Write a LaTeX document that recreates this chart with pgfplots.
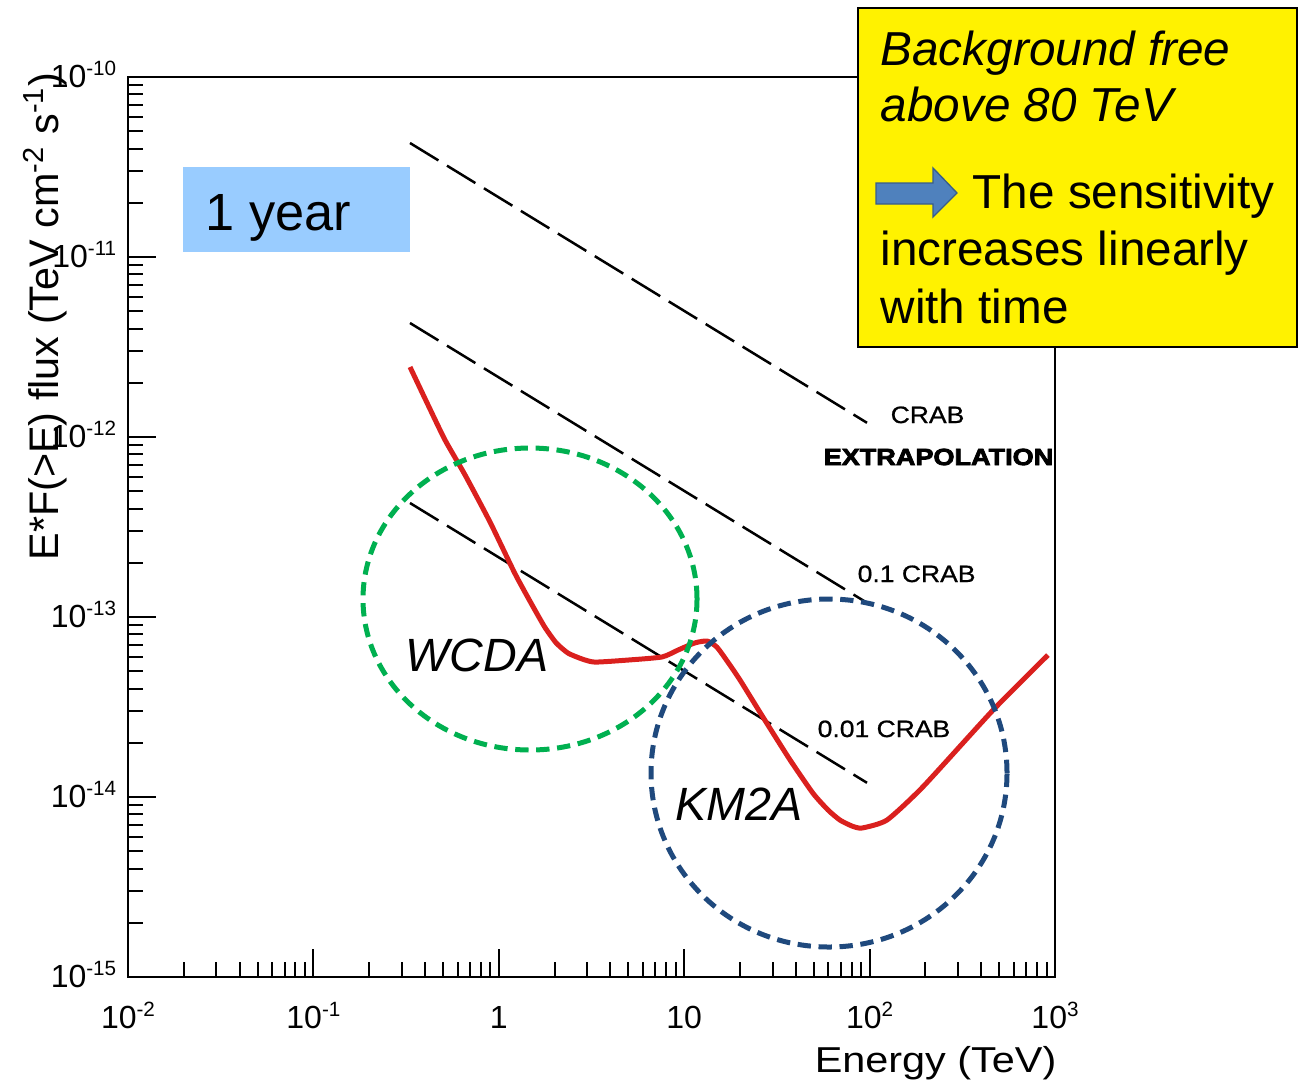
\documentclass[border=0pt]{standalone}
\usepackage{fontspec}
\setmainfont{Liberation Sans}
\newfontfamily\chartfont[FakeStretch=1.15]{Liberation Sans}
\newfontfamily\crabfont[FakeStretch=1.12,FakeBold=0.8]{Liberation Sans}
\newfontfamily\heavyfont[FakeStretch=1.16,FakeBold=3.5]{Liberation Sans Bold}
\usepackage{pgfplots}
\pgfplotsset{compat=1.18}

\definecolor{curvered}{RGB}{218,32,30}
\definecolor{wcdagreen}{RGB}{0,176,80}
\definecolor{kmblue}{RGB}{31,73,125}
\definecolor{yearblue}{RGB}{153,204,255}
\definecolor{arrowfill}{RGB}{79,129,189}
\definecolor{arrowedge}{RGB}{56,93,138}

% small raised exponent for the tick labels
\newcommand\sups[1]{\raisebox{3.4pt}{\fontsize{6.2}{7}\selectfont #1}}

\begin{document}
\begin{tikzpicture}
\useasboundingbox (0,0) rectangle (390.3pt,325.2pt);

\begin{axis}[
  at={(38.4pt,32.1pt)}, anchor=south west,
  scale only axis, width=278.1pt, height=270pt,
  xmode=log, ymode=log,
  xmin=0.01, xmax=1000, ymin=1e-15, ymax=1e-10,
  axis line style={line width=0.7pt},
  xtick pos=bottom, ytick pos=left,
  xtick={0.01,0.1,1,10,100,1000},
  xticklabels={10\sups{-2},10\sups{-1},1,10,10\sups{2},10\sups{3}},
  minor xtick={0.02,0.03,0.04,0.05,0.06,0.07,0.08,0.09,
               0.2,0.3,0.4,0.5,0.6,0.7,0.8,0.9,
               2,3,4,5,6,7,8,9,
               20,30,40,50,60,70,80,90,
               200,300,400,500,600,700,800,900},
  ytick={1e-15,1e-14,1e-13,1e-12,1e-11,1e-10},
  yticklabels={10\sups{-15},10\sups{-14},10\sups{-13},10\sups{-12},10\sups{-11},10\sups{-10}},
  minor ytick={2e-15,3e-15,4e-15,5e-15,6e-15,7e-15,8e-15,9e-15,
               2e-14,3e-14,4e-14,5e-14,6e-14,7e-14,8e-14,9e-14,
               2e-13,3e-13,4e-13,5e-13,6e-13,7e-13,8e-13,9e-13,
               2e-12,3e-12,4e-12,5e-12,6e-12,7e-12,8e-12,9e-12,
               2e-11,3e-11,4e-11,5e-11,6e-11,7e-11,8e-11,9e-11},
  major tick length=8.4pt, minor tick length=4.5pt,
  every tick/.style={black, line width=0.6pt},
  tick label style={font=\fontsize{9.6}{10}\selectfont},
  xticklabel style={anchor=base, yshift=-15.3pt},
  yticklabel style={anchor=base east, yshift=-3pt},
]
% Crab-unit reference lines
\addplot[black, line width=0.75pt, dash pattern=on 10pt off 3pt]
  coordinates {(0.332,4.30e-11) (96.8,1.20e-12)};
\addplot[black, line width=0.75pt, dash pattern=on 10pt off 3pt]
  coordinates {(0.332,4.30e-12) (96.8,1.20e-13)};
\addplot[black, line width=0.75pt, dash pattern=on 10pt off 3pt]
  coordinates {(0.332,4.30e-13) (96.8,1.20e-14)};
% One-year sensitivity curve
\addplot[curvered, line width=1.5pt, smooth, tension=0.35, line join=round]
  coordinates {
  (0.332,2.45e-12) (0.415,1.51e-12) (0.513,9.62e-13) (0.658,6.15e-13)
  (0.897,3.37e-13) (1.22,1.75e-13) (1.51,1.17e-13) (1.77,8.79e-14)
  (2.04,7.18e-14) (2.36,6.31e-14) (2.81,5.85e-14) (3.30,5.62e-14)
  (4.98,5.77e-14) (7.59,6.00e-14) (9.27,6.56e-14) (11.4,7.18e-14)
  (13.3,7.36e-14) (15.0,6.81e-14) (17.2,5.62e-14) (20.0,4.47e-14)
  (26.6,2.78e-14) (37.2,1.61e-14) (49.5,1.05e-14) (59.7,8.47e-15)
  (69.2,7.45e-15) (80.4,6.90e-15) (91.0,6.73e-15) (124,7.45e-15)
  (194,1.14e-14) (463,3.04e-14) (916,6.15e-14)};
\end{axis}

\begin{scope}[x=0.3pt, y=-0.3pt, shift={(0,325.2pt)}]
  % axis titles
  \node[rotate=90, anchor=base east, inner sep=0, font=\fontsize{12.4}{14}\selectfont]
    at (58,72) {E*F(>E) flux (TeV cm\textsuperscript{-2} s\textsuperscript{-1})};
  \node[anchor=base east, inner sep=0, font=\chartfont\fontsize{10.8}{12}\selectfont]
    at (1057,1072) {Energy (TeV)};

  % line labels
  \node[anchor=base west, inner sep=0, font=\crabfont\fontsize{7.1}{8}\selectfont] at (890,423) {CRAB};
  \node[anchor=base west, inner sep=0, font=\heavyfont\fontsize{7}{8}\selectfont] at (823,465) {EXTRAPOLATION};
  \node[anchor=base west, inner sep=0, font=\crabfont\fontsize{7.1}{8}\selectfont] at (857,582) {0.1 CRAB};
  \node[anchor=base west, inner sep=0, font=\crabfont\fontsize{7.1}{8}\selectfont] at (817,737) {0.01 CRAB};

  % detector regions
  \draw[wcdagreen, line width=1.5pt, dash pattern=on 4pt off 2.3pt]
    (530,599) ellipse [x radius=50.1pt, y radius=45.3pt];
  \draw[kmblue, line width=1.5pt, dash pattern=on 4pt off 2.3pt]
    (829,773) ellipse [x radius=53.4pt, y radius=52.2pt];
  \node[anchor=base west, inner sep=0, font=\itshape\fontsize{14}{16}\selectfont] at (405,671) {WCDA};
  \node[anchor=base west, inner sep=0, font=\itshape\fontsize{14}{16}\selectfont] at (675,820) {KM2A};

  % exposure tag
  \fill[yearblue] (183,167) rectangle (410,252);
  \node[anchor=base west, inner sep=0, font=\fontsize{15.7}{18}\selectfont] at (205,230) {1 year};

  % note box
  \filldraw[fill=yellow, draw=black, line width=0.6pt] (858,8) rectangle (1297,347);
  \node[anchor=base west, inner sep=0, font=\itshape\fontsize{14.3}{17}\selectfont] at (880,65) {Background free};
  \node[anchor=base west, inner sep=0, font=\itshape\fontsize{14.3}{17}\selectfont] at (880,121) {above 80 TeV};
  \filldraw[fill=arrowfill, draw=arrowedge, line width=0.4pt]
    (876,183) -- (933,183) -- (933,168) -- (957,193) -- (933,217) -- (933,204) -- (876,204) -- cycle;
  \node[anchor=base west, inner sep=0, font=\fontsize{14.3}{17}\selectfont] at (972,208) {The sensitivity};
  \node[anchor=base west, inner sep=0, font=\fontsize{14.3}{17}\selectfont] at (880,265) {increases linearly};
  \node[anchor=base west, inner sep=0, font=\fontsize{14.3}{17}\selectfont] at (880,323) {with time};
\end{scope}
\end{tikzpicture}
\end{document}
